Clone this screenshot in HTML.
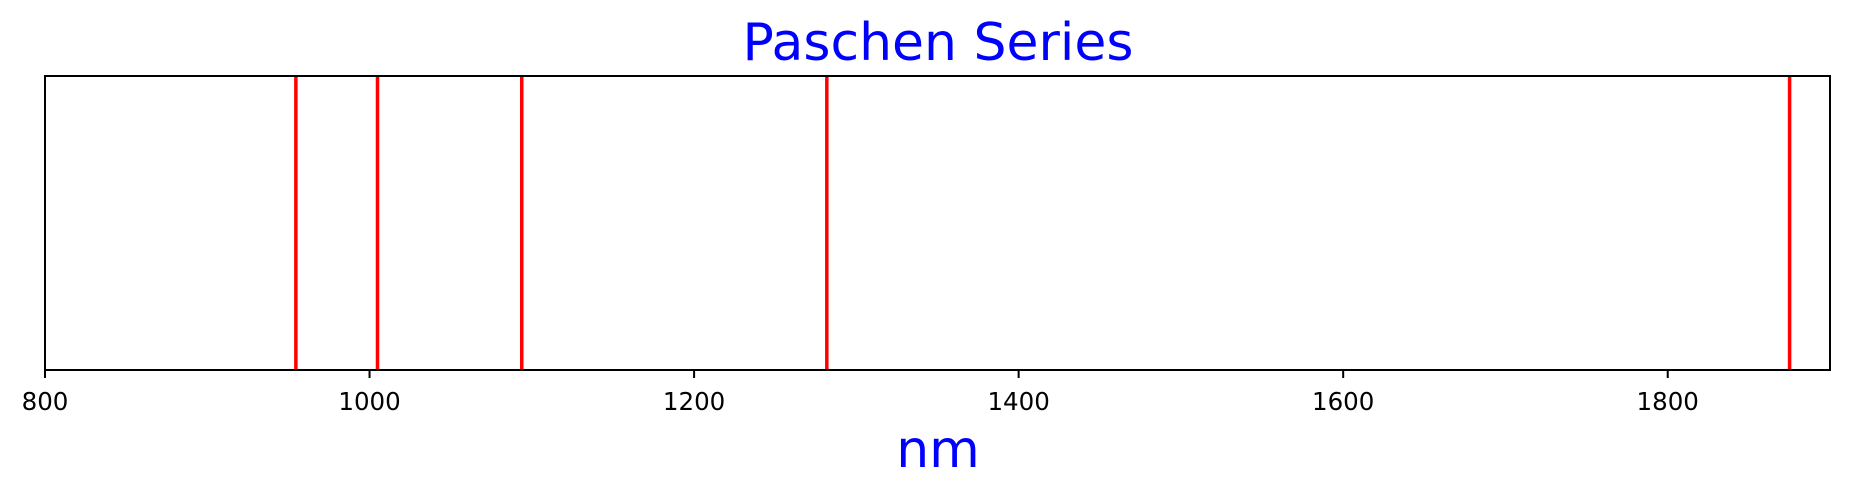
<!DOCTYPE html>
<html><head><meta charset="utf-8"><style>
html,body{margin:0;padding:0;background:#fff;}
svg{display:block;font-family:"DejaVu Sans","Liberation Sans",sans-serif;}
</style></head><body>
<svg id="chart" width="1849" height="498" viewBox="0 0 1849 498">
<text x="938" y="60" text-anchor="middle" font-size="52" fill="#0000ff">Paschen Series</text>
<g id="lines"></g>
<rect x="45" y="76" width="1785" height="294" fill="none" stroke="#000" stroke-width="2"/>
<g id="ticks"></g>
<text x="938" y="467" text-anchor="middle" font-size="52" fill="#0000ff">nm</text>
</svg>
<script>
const wavelengths = [1875.1, 1281.8, 1093.8, 1004.9, 954.6];
const tickValues = [800, 1000, 1200, 1400, 1600, 1800];
const xMin = 800, xMax = 1900;
const plotLeft = 45, plotRight = 1830, plotTop = 76, plotBottom = 370;
const svgNS = "http://www.w3.org/2000/svg";
function xScale(v){ return plotLeft + (v - xMin) / (xMax - xMin) * (plotRight - plotLeft); }
const lg = document.getElementById('lines');
wavelengths.forEach(w => {
  const l = document.createElementNS(svgNS, 'line');
  l.setAttribute('x1', xScale(w)); l.setAttribute('x2', xScale(w));
  l.setAttribute('y1', plotTop); l.setAttribute('y2', plotBottom);
  l.setAttribute('stroke', '#ff0000'); l.setAttribute('stroke-width', '3.5');
  
  
  lg.appendChild(l);
});
const tg = document.getElementById('ticks');
tickValues.forEach(t => {
  const x = xScale(t);
  const l = document.createElementNS(svgNS, 'line');
  l.setAttribute('x1', x); l.setAttribute('x2', x);
  l.setAttribute('y1', plotBottom); l.setAttribute('y2', plotBottom + 8);
  l.setAttribute('stroke', '#000'); l.setAttribute('stroke-width', '2');
  
  
  tg.appendChild(l);
  const tx = document.createElementNS(svgNS, 'text');
  tx.setAttribute('x', x); tx.setAttribute('y', 410);
  tx.setAttribute('text-anchor', 'middle'); tx.setAttribute('font-size', '24.5');
  tx.textContent = t;
  
  
  tg.appendChild(tx);
});
</script>
</body></html>
